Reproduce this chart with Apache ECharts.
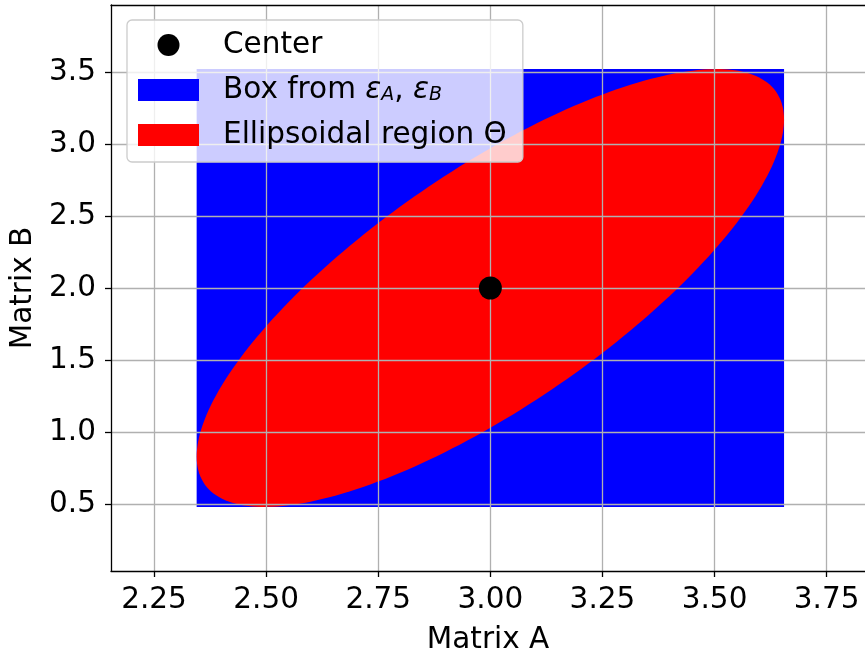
<!DOCTYPE html>
<html>
<head>
<meta charset="utf-8">
<script src="https://cdn.jsdelivr.net/npm/echarts@6/dist/echarts.min.js"></script>
<style>html,body{margin:0;padding:0;background:#fff}#c{width:865px;height:652px}</style>
</head>
<body>
<div id="c"></div>
<script>
const xTicks = [2.25, 2.5, 2.75, 3.0, 3.25, 3.5, 3.75];
const yTicks = [0.5, 1.0, 1.5, 2.0, 2.5, 3.0, 3.5];
const centerPoint = [3.0, 2.0];
const boxHalfWidths = [0.655, 1.52];
const ellipseShape = [[0.429, 0.766], [0.766, 2.31]];
const seriesNames = ['Center', 'Box from εA, εB', 'Ellipsoidal region Θ'];

const FONT = 'DejaVu Sans';
const FS = 29.5;
const chart = echarts.init(document.getElementById('c'), null, {renderer: 'canvas'});

const legendText = {};
legendText[seriesNames[0]] = '{g|}{n|Center}';
legendText[seriesNames[1]] = '{g|}{n|Box from }{i|ε}{s|A}{n|, }{i|ε}{s|B}';
legendText[seriesNames[2]] = '{g|}{n|Ellipsoidal region Θ}';

const axisCommon = {
  type: 'value',
  z: 1,
  axisLine: {show: true, onZero: false, lineStyle: {color: '#000', width: 1.3}},
  axisTick: {show: true, length: 6, lineStyle: {color: '#000', width: 1.3}},
  splitLine: {show: true, lineStyle: {color: '#b0b0b0', width: 1.3}},
  nameTextStyle: {fontFamily: FONT, fontSize: FS, color: '#000'},
  nameLocation: 'middle'
};

const xMin = 2.154, xMax = 3.8355;

chart.setOption({
  animation: false,
  grid: {left: 111, top: 5, right: 0, height: 566, show: false, containLabel: false, outerBoundsMode: 'none'},
  legend: {
    orient: 'vertical', left: 127, top: 20, z: 10,
    padding: [10, 16, 12, 11],
    itemWidth: 61, itemHeight: 22, itemGap: 15,
    backgroundColor: 'rgba(255,255,255,0.8)', borderColor: '#cccccc', borderWidth: 1.3, borderRadius: 5,
    selectedMode: false,
    data: [
      {name: seriesNames[0], icon: 'circle'},
      {name: seriesNames[1], icon: 'rect'},
      {name: seriesNames[2], icon: 'rect'}
    ],
    formatter: n => legendText[n],
    textStyle: {
      fontFamily: FONT, fontSize: FS, color: '#000',
      rich: {
        g: {width: 19, lineHeight: 30},
        n: {fontFamily: FONT, fontSize: FS, color: '#000', lineHeight: 30},
        i: {fontFamily: FONT, fontSize: FS, fontStyle: 'italic', color: '#000', lineHeight: 30},
        s: {fontFamily: FONT, fontSize: 19, fontStyle: 'italic', color: '#000', lineHeight: 7, verticalAlign: 'bottom'}
      }
    }
  },
  xAxis: [
    Object.assign({}, axisCommon, {
      min: xMin, max: xMax, position: 'bottom',
      name: 'Matrix A', nameGap: 54,
      axisTick: Object.assign({}, axisCommon.axisTick, {customValues: xTicks}),
      axisLabel: {customValues: xTicks, margin: 14, fontFamily: FONT, fontSize: FS, color: '#000', formatter: v => Number(v).toFixed(2)}
    }),
    {
      type: 'value', min: xMin, max: xMax, position: 'top', z: 1,
      axisLine: {show: true, onZero: false, lineStyle: {color: '#000', width: 1.3}},
      axisTick: {show: false}, axisLabel: {show: false}, splitLine: {show: false}
    }
  ],
  yAxis: Object.assign({}, axisCommon, {
    min: 0.035, max: 3.965, position: 'left',
    name: 'Matrix B', nameGap: 70, nameRotate: 90,
    axisTick: Object.assign({}, axisCommon.axisTick, {customValues: yTicks}),
    axisLabel: {customValues: yTicks, margin: 15, fontFamily: FONT, fontSize: FS, color: '#000', formatter: v => Number(v).toFixed(1)}
  }),
  series: [
    {
      name: seriesNames[1], type: 'custom', z: 0, itemStyle: {color: '#0000ff'},
      data: [centerPoint],
      renderItem: function (params, api) {
        const cx = api.value(0), cy = api.value(1);
        const p1 = api.coord([cx - boxHalfWidths[0], cy + boxHalfWidths[1]]);
        const p2 = api.coord([cx + boxHalfWidths[0], cy - boxHalfWidths[1]]);
        return {type: 'rect', shape: {x: p1[0], y: p1[1], width: p2[0] - p1[0], height: p2[1] - p1[1]}, style: {fill: '#0000ff'}};
      }
    },
    {
      name: seriesNames[2], type: 'custom', z: 0, itemStyle: {color: '#ff0000'},
      data: [centerPoint],
      renderItem: function (params, api) {
        const cx = api.value(0), cy = api.value(1);
        const a = Math.sqrt(ellipseShape[0][0]);
        const b = ellipseShape[0][1] / a;
        const d = Math.sqrt(ellipseShape[1][1] - b * b);
        const pts = [];
        const N = 240;
        for (let k = 0; k < N; k++) {
          const t = 2 * Math.PI * k / N;
          pts.push(api.coord([cx + a * Math.cos(t), cy + b * Math.cos(t) + d * Math.sin(t)]));
        }
        return {type: 'polygon', shape: {points: pts}, style: {fill: '#ff0000'}};
      }
    },
    {
      name: seriesNames[0], type: 'scatter', z: 5, symbol: 'circle', symbolSize: 23,
      itemStyle: {color: '#000', opacity: 1},
      data: [centerPoint]
    }
  ]
});
</script>
</body>
</html>
